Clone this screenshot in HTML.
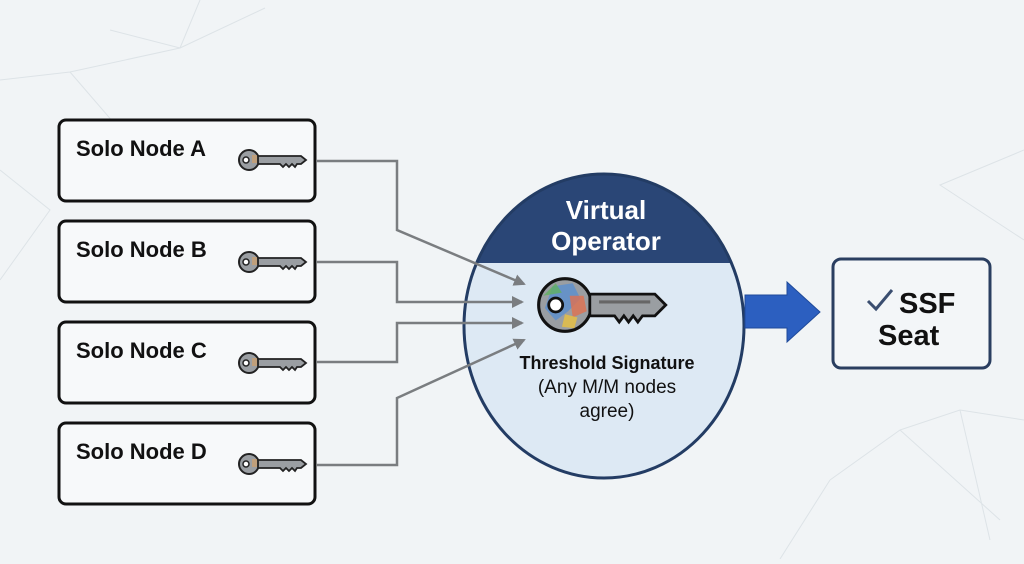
<!DOCTYPE html>
<html><head><meta charset="utf-8"><style>
body{margin:0;width:1024px;height:559px;overflow:hidden;background:#f1f4f6;font-family:"Liberation Sans",sans-serif;}
</style></head><body>
<svg width="1024" height="559" viewBox="0 0 1024 559" xmlns="http://www.w3.org/2000/svg">
<defs>
<clipPath id="cc"><ellipse cx="604" cy="326" rx="140" ry="152"/></clipPath>
<marker id="ah" markerWidth="12" markerHeight="12" refX="10" refY="6" orient="auto" markerUnits="userSpaceOnUse"><path d="M0,0 L12,6 L0,12 z" fill="#7a7d80"/></marker>
<g id="k">
<circle cx="0" cy="0" r="10" fill="#9a9ea2" stroke="#222" stroke-width="2"/>
<circle cx="-3" cy="0" r="3" fill="#fff" stroke="#222" stroke-width="1.5"/>
<rect x="3" y="-5" width="5" height="8" fill="#d8a060" opacity=".6"/>
<path d="M9,-4 L52,-4 L57,0 L52,4 L48,4 L46,7 L43,4 L40,7 L37,4 L34,7 L31,4 L9,4 z" fill="#9a9ea2" stroke="#222" stroke-width="1.8"/>
</g>
</defs>
<g stroke="#dde3e7" stroke-width="1" fill="none">
<path d="M0,80 L70,72 L180,48 L265,8 M70,72 L120,130 M180,48 L200,0 M110,30 L180,48 M0,170 L50,210 L0,280"/>
<path d="M1024,150 L940,185 L1024,240 M900,430 L960,410 L1024,420 M830,480 L900,430 L1000,520 M960,410 L990,540 M780,559 L830,480"/>
</g>
<g fill="#f7f9fa" stroke="#111" stroke-width="3">
<rect x="59" y="120" width="256" height="81" rx="7"/>
<rect x="59" y="221" width="256" height="81" rx="7"/>
<rect x="59" y="322" width="256" height="81" rx="7"/>
<rect x="59" y="423" width="256" height="81" rx="7"/>
</g>
<g font-weight="bold" font-size="22" fill="#111">
<text x="76" y="156">Solo Node A</text>
<text x="76" y="257">Solo Node B</text>
<text x="76" y="358">Solo Node C</text>
<text x="76" y="459">Solo Node D</text>
</g>
<use href="#k" transform="translate(249,160)"/>
<use href="#k" transform="translate(249,262)"/>
<use href="#k" transform="translate(249,363)"/>
<use href="#k" transform="translate(249,464)"/>
<g clip-path="url(#cc)">
<rect x="460" y="170" width="290" height="320" fill="#dde9f4"/>
<rect x="460" y="170" width="290" height="93" fill="#2a4676"/>
</g>
<ellipse cx="604" cy="326" rx="140" ry="152" fill="none" stroke="#233c64" stroke-width="3"/>
<g stroke="#7a7d80" stroke-width="2.5" fill="none" marker-end="url(#ah)">
<path d="M316,161 H397 V230 L524,284"/>
<path d="M316,262 H397 V302 H522"/>
<path d="M316,362 H397 V323 H522"/>
<path d="M316,465 H397 V398 L524,340"/>
</g>
<g font-weight="bold" font-size="26" fill="#fff" text-anchor="middle">
<text x="606" y="219">Virtual</text>
<text x="606" y="250">Operator</text>
</g>
<g transform="translate(565,305) scale(1.55)">
<circle cx="0" cy="0" r="17" fill="#9a9ea2" stroke="#111" stroke-width="2"/>
<path d="M-8,-12 L5,-14 L10,-4 L2,4 L-6,10 L-13,2z" fill="#5a8fd0" opacity=".8"/>
<path d="M3,-6 L12,-6 L14,4 L5,8z" fill="#e07050" opacity=".8"/>
<path d="M0,6 L8,8 L6,15 L-2,14z" fill="#e8c040" opacity=".8"/>
<path d="M-14,-6 L-6,-14 L-2,-8z" fill="#60b060" opacity=".8"/>
<circle cx="-6" cy="0" r="4.5" fill="#fff" stroke="#111" stroke-width="1.8"/>
<path d="M16,-7 L58,-7 L65,0 L58,7 L50,7 L47,11 L44,7 L41,11 L38,7 L35,11 L32,7 L16,7 z" fill="#9a9ea2" stroke="#111" stroke-width="1.8"/>
<line x1="22" y1="-2" x2="55" y2="-2" stroke="#666" stroke-width="2"/>
</g>
<text x="607" y="369" text-anchor="middle" font-weight="bold" font-size="18" fill="#111">Threshold Signature</text>
<text x="607" y="393" text-anchor="middle" font-size="19" fill="#111">(Any M/M nodes</text>
<text x="607" y="417" text-anchor="middle" font-size="19" fill="#111">agree)</text>
<path d="M745,295 H787 V282 L820,312 L787,342 V328 H745z" fill="#2c5fc0" stroke="#1f4a9a" stroke-width="1"/>
<rect x="833" y="259" width="157" height="109" rx="8" fill="#f3f6f8" stroke="#2a3e60" stroke-width="3"/>
<path d="M868,301 L876,309 L892,290" fill="none" stroke="#3a4e70" stroke-width="3"/>
<text x="899" y="313" font-weight="bold" font-size="29" fill="#111">SSF</text>
<text x="878" y="345" font-weight="bold" font-size="29" fill="#111">Seat</text>
</svg>
</body></html>
